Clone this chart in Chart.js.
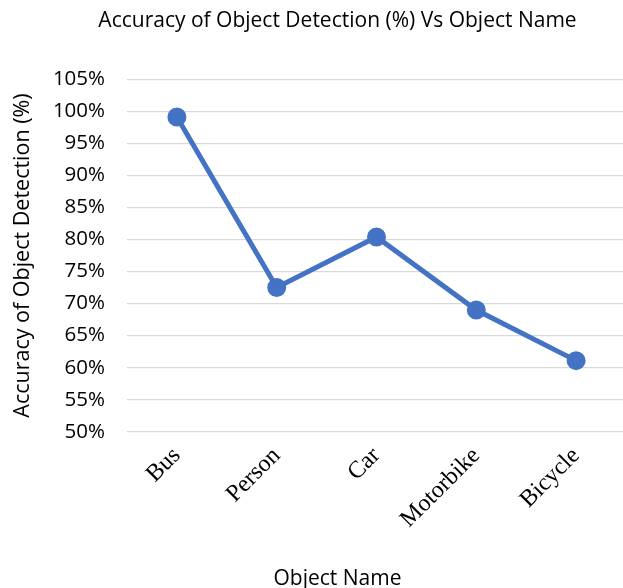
<!DOCTYPE html>
<html>
<head>
<meta charset="utf-8">
<script src="https://cdn.jsdelivr.net/npm/chart.js@4"></script>
<style>
  html, body { margin: 0; padding: 0; background: #fff; overflow: hidden; }
  #wrap { width: 675px; height: 588px; }
</style>
</head>
<body>
<div id="wrap"><canvas id="myChart"></canvas></div>
<script>
const objectNames = ['Bus', 'Person', 'Car', 'Motorbike', 'Bicycle']
const accuracy = [99.1, 72.5, 80.4, 69.0, 61.1]

const sans = "'Open Sans', 'Liberation Sans', sans-serif"

const ctx = document.getElementById('myChart')

new Chart(ctx, {
  type: 'line',
  data: {
    labels: objectNames,
    datasets: [{
      label: 'Accuracy',
      data: accuracy,
      borderColor: '#4472C4',
      backgroundColor: '#4472C4',
      borderWidth: 5,
      pointRadius: 7,
      pointHoverRadius: 7,
      tension: 0
    }]
  },
  options: {
    responsive: true,
    maintainAspectRatio: false,
    animation: false,
    layout: { padding: 0 },
    plugins: {
      legend: { display: false },
      tooltip: { enabled: false },
      title: {
        display: true,
        text: 'Accuracy of Object Detection (%) Vs Object Name',
        color: '#000',
        font: { family: sans, size: 21, weight: 'normal' },
        padding: { top: 8, bottom: 46 }
      },
      subtitle: {
        display: true,
        position: 'bottom',
        text: 'Object Name',
        color: '#000',
        font: { family: sans, size: 21, weight: 'normal' },
        padding: { top: 4, bottom: -4 }
      }
    },
    scales: {
      x: {
        offset: true,
        grid: { display: false },
        border: { display: false },
        afterFit: function(scale) {
          scale.height = 131
          scale.paddingRight = 49
        },
        ticks: {
          color: '#000',
          minRotation: 45,
          maxRotation: 45,
          padding: 2,
          font: { family: "'Liberation Serif', 'Times New Roman', serif", size: 24 }
        }
      },
      y: {
        min: 50,
        max: 105,
        afterFit: function(scale) { scale.width = 127 },
        grid: { color: '#d9d9d9', lineWidth: 1.3, drawTicks: false },
        border: { display: false },
        ticks: {
          stepSize: 5,
          color: '#000',
          padding: 22,
          font: { family: sans, size: 20.5 },
          callback: function(v) { return v + '%' }
        },
        title: {
          display: true,
          text: 'Accuracy of Object Detection (%)',
          color: '#000',
          font: { family: sans, size: 21.5 },
          padding: { top: 10, bottom: 0 }
        }
      }
    }
  }
})
</script>
</body>
</html>
